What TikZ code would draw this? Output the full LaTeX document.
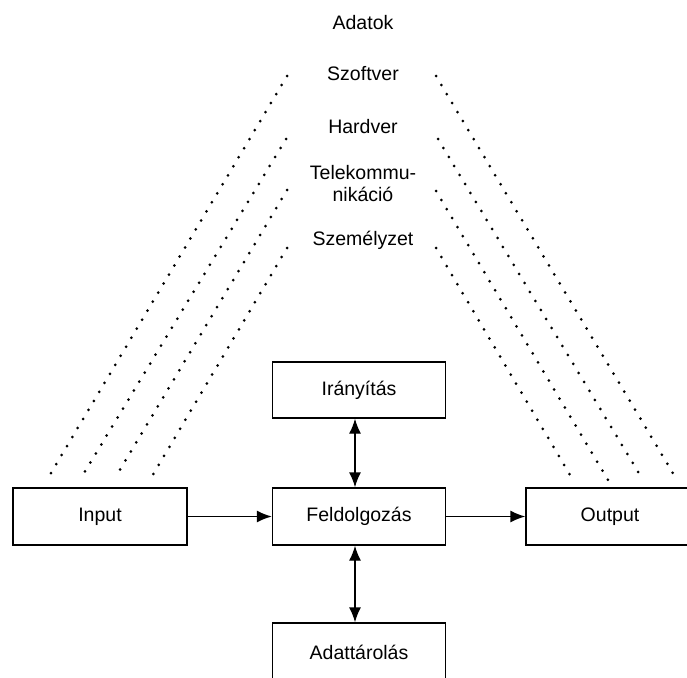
\documentclass[tikz,border=0pt]{standalone}
\usepackage{fontspec}
\setmainfont{Liberation Sans}
\usetikzlibrary{arrows.meta}
\begin{document}
\begin{tikzpicture}[x=1pt,y=-1pt,
  box/.style={draw,line width=1.4pt,minimum width=173pt,minimum height=57pt,inner sep=0pt},
  lbl/.style={inner sep=0pt,align=center},
  dots/.style={line width=3pt,line cap=round,dash pattern=on 0pt off 10.5pt},
  arr/.style={line width=1.4pt,-{Latex[length=15pt,width=12pt]}},
  darr/.style={line width=1.4pt,{Latex[length=15pt,width=12pt]}-{Latex[length=15pt,width=12pt]}},
  font=\fontsize{19.5}{22}\selectfont]
\useasboundingbox (0,0) rectangle (687,677);
\fill[white] (0,0) rectangle (687,677);
% boxes
\node[box,minimum width=174pt] (inp) at (100,516.5) {Input};
\node[box] (feld) at (359,516.5) {Feldolgozás};
\node[box,minimum width=176pt] (out) at (614,516.5) {Output\hspace*{8pt}};
\node[box,minimum height=56pt] (iran) at (359,390) {Irányítás};
\node[box,minimum height=58pt] (adat) at (359,652) {Adattárolás};
% labels
\node[lbl] (adatok) at (363,23) {Adatok};
\node[lbl] (szoft) at (363,74) {Szoftver};
\node[lbl] (hard) at (363,127) {Hardver};
\node[lbl] (tele) at (363,184) {Telekommu-\\nikáció};
\node[lbl] (szem) at (363,240) {Személyzet};
% dotted line ends
\coordinate (l1t) at (287,76);  \coordinate (l1b) at (48,478);
\coordinate (l2t) at (286,139); \coordinate (l2b) at (81,478);
\coordinate (l3t) at (287,190); \coordinate (l3b) at (115,478);
\coordinate (l4t) at (287,248); \coordinate (l4b) at (151,478);
\coordinate (r1t) at (436,76);  \coordinate (r1b) at (677,480);
\coordinate (r2t) at (438,139); \coordinate (r2b) at (643,480);
\coordinate (r3t) at (436,191); \coordinate (r3b) at (608,480);
\coordinate (r4t) at (436,248); \coordinate (r4b) at (573,480);
\foreach \a/\b in {l1t/l1b,l2t/l2b,l3t/l3b,l4t/l4b,r1t/r1b,r2t/r2b,r3t/r3b,r4t/r4b}
  \draw[dots] (\a) -- (\b);
% arrows
\draw[arr] (inp.east) -- (feld.west);
\draw[arr] (feld.east) -- (out.west);
\draw[darr] ([xshift=-4pt]iran.south) -- ([xshift=-4pt]feld.north);
\draw[darr] ([xshift=-4pt]feld.south) -- ([xshift=-4pt]adat.north);
\end{tikzpicture}
\end{document}
